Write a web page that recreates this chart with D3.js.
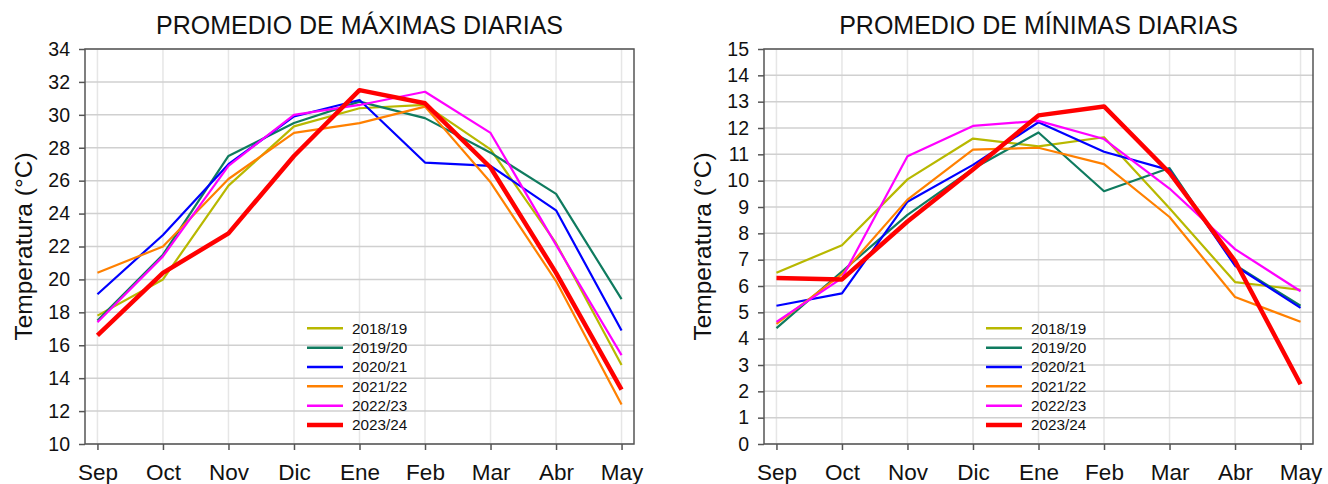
<!DOCTYPE html>
<html>
<head>
<meta charset="utf-8">
<script src="https://cdn.jsdelivr.net/npm/d3@7"></script>
<style>
  body { margin: 0; background: #fff; }
  svg { display: block; font-family: "Liberation Sans", Arial, sans-serif; }
  .axis path, .axis line { stroke: #555; stroke-width: 1.5; }
  .axis text { fill: #111; }
</style>
</head>
<body>
<div id="chart"></div>
<script>
// categories
const months = ["Sep", "Oct", "Nov", "Dic", "Ene", "Feb", "Mar", "Abr", "May"];
const seasons = ["2018/19", "2019/20", "2020/21", "2021/22", "2022/23", "2023/24"];
const seasonColors = ["#b8b800", "#0f7b5f", "#0000ff", "#ff8000", "#ff00ff", "#ff0000"];

// promedio de maximas diarias (°C)
const max1819 = [17.8, 20.0, 25.7, 29.3, 30.4, 30.6, 27.9, 22.2, 14.8];
const max1920 = [17.5, 21.5, 27.5, 29.5, 30.8, 29.8, 27.7, 25.2, 18.8];
const max2021 = [19.1, 22.7, 27.0, 29.9, 30.9, 27.1, 26.9, 24.2, 16.9];
const max2122 = [20.4, 22.0, 26.1, 28.9, 29.5, 30.5, 25.9, 19.9, 12.4];
const max2223 = [17.4, 21.4, 26.9, 30.0, 30.6, 31.4, 28.9, 22.1, 15.4];
const max2324 = [16.6, 20.4, 22.8, 27.5, 31.5, 30.7, 26.8, 20.4, 13.3];

// promedio de minimas diarias (°C)
const min1819 = [6.5, 7.55, 10.05, 11.6, 11.3, 11.65, 8.95, 6.15, 5.85];
const min1920 = [4.4, 6.55, 8.7, 10.45, 11.83, 9.6, 10.48, 6.8, 5.25];
const min2021 = [5.25, 5.72, 9.2, 10.6, 12.22, 11.1, 10.4, 6.77, 5.17];
const min2122 = [4.56, 6.45, 9.28, 11.18, 11.25, 10.63, 8.62, 5.58, 4.64];
const min2223 = [4.64, 6.3, 10.93, 12.08, 12.27, 11.58, 9.7, 7.4, 5.8];
const min2324 = [6.3, 6.25, 8.45, 10.42, 12.48, 12.82, 10.3, 6.95, 2.27];

// tick labels
const maxTicks = [10, 12, 14, 16, 18, 20, 22, 24, 26, 28, 30, 32, 34];
const minTicks = [0, 1, 2, 3, 4, 5, 6, 7, 8, 9, 10, 11, 12, 13, 14, 15];

const width = 1328, height = 484;

const svg = d3.select("#chart")
    .append("svg")
    .attr("width", width)
    .attr("height", height);

function drawPanel(cfg) {
    const top = 49, bottom = 444;

    const x = d3.scalePoint()
        .domain(months)
        .range([cfg.left, cfg.right])
        .padding(0.19);
    const y = d3.scaleLinear()
        .domain(d3.extent(cfg.ticks))
        .range([bottom, top]);

    const g = svg.append("g");

    // grid
    g.append("g")
        .selectAll("line")
        .data(months)
        .join("line")
        .attr("x1", d => x(d)).attr("x2", d => x(d))
        .attr("y1", top).attr("y2", bottom)
        .attr("stroke", "#e6e6e6")
        .attr("stroke-width", 1.5);
    g.append("g")
        .selectAll("line")
        .data(cfg.ticks)
        .join("line")
        .attr("x1", cfg.left).attr("x2", cfg.right)
        .attr("y1", d => y(d)).attr("y2", d => y(d))
        .attr("stroke", "#d0d0d0")
        .attr("stroke-width", 1.5);

    // series
    const line = d3.line()
        .x((d, i) => x(months[i]))
        .y(d => y(d));
    g.append("g")
        .selectAll("path")
        .data(cfg.series)
        .join("path")
        .attr("d", d => line(d))
        .attr("fill", "none")
        .attr("stroke", (d, i) => seasonColors[i])
        .attr("stroke-width", (d, i) => i === seasons.length - 1 ? 4.5 : 2.2)
        .attr("stroke-linejoin", "round");

    // frame
    g.append("rect")
        .attr("x", cfg.left).attr("y", top)
        .attr("width", cfg.right - cfg.left)
        .attr("height", bottom - top)
        .attr("fill", "none")
        .attr("stroke", "#555")
        .attr("stroke-width", 1.5);

    // axes
    const yAxis = d3.axisLeft(y).tickValues(cfg.ticks).tickSize(6).tickPadding(9);
    g.append("g")
        .attr("class", "axis")
        .attr("transform", `translate(${cfg.left},0)`)
        .call(yAxis)
        .call(a => a.select(".domain").remove())
        .selectAll("text")
        .style("font-size", "19.5px");

    const xAxis = d3.axisBottom(x).tickSize(6).tickPadding(14);
    g.append("g")
        .attr("class", "axis")
        .attr("transform", `translate(0,${bottom})`)
        .call(xAxis)
        .call(a => a.select(".domain").remove())
        .selectAll("text")
        .style("font-size", "22.5px");

    // title
    g.append("text")
        .attr("x", (cfg.left + cfg.right) / 2)
        .attr("y", 34)
        .attr("text-anchor", "middle")
        .style("font-size", "25px")
        .attr("fill", "#111")
        .text(cfg.title);

    // y label
    g.append("text")
        .attr("transform", `translate(${cfg.left - 53},${(top + bottom) / 2}) rotate(-90)`)
        .attr("text-anchor", "middle")
        .style("font-size", "24.5px")
        .attr("fill", "#111")
        .text("Temperatura (°C)");

    // legend
    const legend = g.append("g")
        .attr("transform", `translate(${cfg.left + 222},328.3)`);
    const item = legend.selectAll("g")
        .data(seasons)
        .join("g")
        .attr("transform", (d, i) => `translate(0,${i * 19.35})`);
    item.append("line")
        .attr("x1", 0).attr("x2", 36)
        .attr("stroke", (d, i) => seasonColors[i])
        .attr("stroke-width", (d, i) => i === seasons.length - 1 ? 4.5 : 2.5);
    item.append("text")
        .attr("x", 45)
        .attr("dy", "0.35em")
        .style("font-size", "15.3px")
        .attr("fill", "#111")
        .text(d => d);
}

drawPanel({
    left: 85, right: 634,
    title: "PROMEDIO DE MÁXIMAS DIARIAS",
    ticks: maxTicks,
    series: [max1819, max1920, max2021, max2122, max2223, max2324]
});
drawPanel({
    left: 764, right: 1313,
    title: "PROMEDIO DE MÍNIMAS DIARIAS",
    ticks: minTicks,
    series: [min1819, min1920, min2021, min2122, min2223, min2324]
});
</script>
</body>
</html>
